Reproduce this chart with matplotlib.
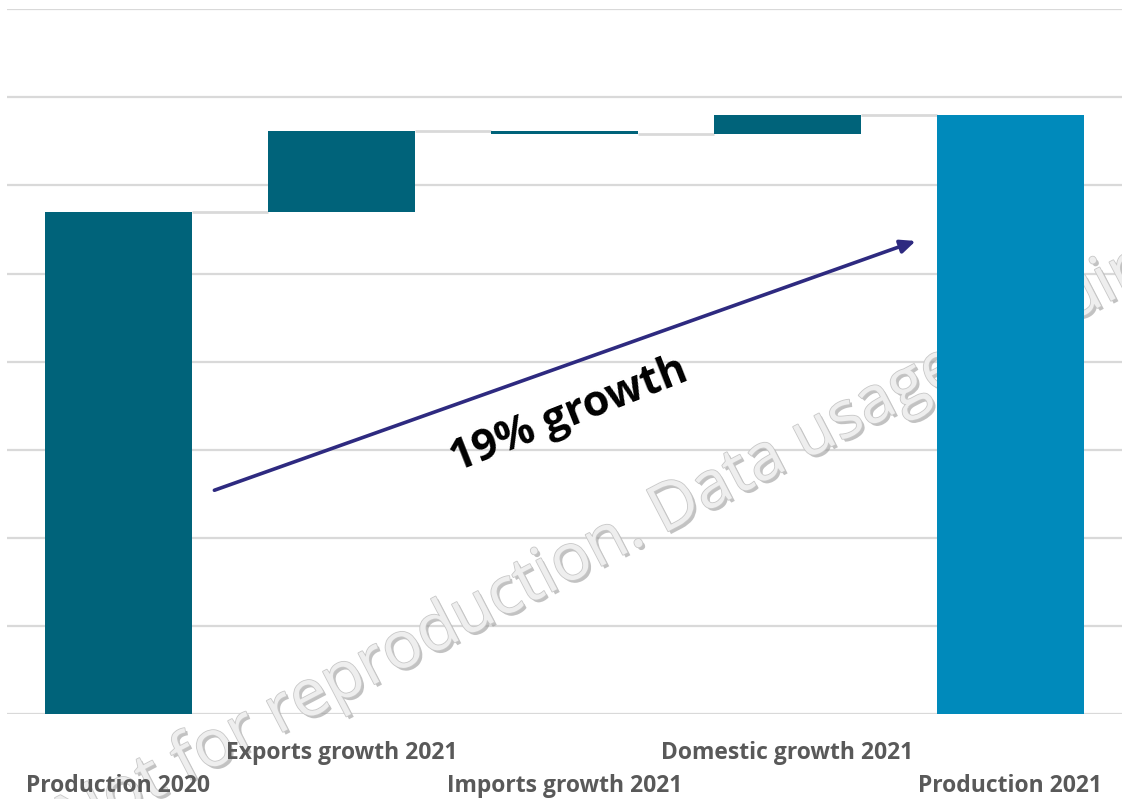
import matplotlib
matplotlib.use("Agg")
import matplotlib.pyplot as plt
import matplotlib.patheffects as pe
from matplotlib.font_manager import FontProperties
import numpy as np

categories = ["Production 2020", "Exports growth 2021", "Imports growth 2021",
              "Domestic growth 2021", "Production 2021"]
start_value = 5.70
changes = [0.92, -0.03, 0.21]
label_rows = [1, 0, 1, 0, 1]  # 0 = upper row, 1 = lower row

dark = "#00637A"
light = "#008ABB"
grid_c = "#D9D9D9"

# waterfall geometry from the data
levels = [start_value]
for c in changes:
    levels.append(levels[-1] + c)
end_value = levels[-1]
bottoms = [0] + [min(levels[i], levels[i + 1]) for i in range(len(changes))] + [0]
heights = [start_value] + [abs(c) for c in changes] + [end_value]
colors = [dark] * 4 + [light]
carry = [start_value] + levels[1:]

fig = plt.figure(figsize=(11.22, 7.99), dpi=100)
ax = fig.add_axes([7 / 1122, 85 / 799, 1 - 7 / 1122, (714 - 9.3) / 799])
x = np.arange(len(categories))
width = 0.663
ax.bar(x, heights, bottom=bottoms, width=width, color=colors, zorder=3)

for i in range(len(categories) - 1):
    ax.plot([x[i] + width / 2, x[i + 1] - width / 2], [carry[i], carry[i]],
            color=grid_c, lw=2, zorder=2, solid_capstyle="butt")

ax.set_xlim(-0.5, 4.5)
ax.set_ylim(0, 8)
ax.set_yticks(np.arange(0, 9, 1))
ax.yaxis.grid(True, color=grid_c, lw=1.6, zorder=0)
ax.set_axisbelow(True)
ax.tick_params(left=False, bottom=False, labelleft=False, labelbottom=False)
for s in ax.spines.values():
    s.set_visible(False)

trans = ax.get_xaxis_transform()
row_y = [-0.056, -0.102]
for i, cat in enumerate(categories):
    ax.text(x[i], row_y[label_rows[i]], cat, transform=trans, ha="center", va="center",
            fontsize=16.5, fontweight="bold", family="Open Sans", color="#595959",
            zorder=5, clip_on=False)

# watermark (behind the bars), anchored so that "Data" starts near (663, 532) px
wm_text = "Not for reproduction. Data usage requires"
wm_size = 47
wm_rot = 27.5
fp = FontProperties(family="Open Sans", size=wm_size)
renderer = fig.canvas.get_renderer()
w_pre, _, _ = renderer.get_text_width_height_descent("Not for reproduction. D", fp, ismath=False)
w_d, _, _ = renderer.get_text_width_height_descent("D", fp, ismath=False)
w_off = w_pre - w_d
ang = np.deg2rad(wm_rot)
d_px = (663.0, 799.0 - 534.0)
start_px = (d_px[0] - w_off * np.cos(ang), d_px[1] - w_off * np.sin(ang))
wm = ax.text(start_px[0] / 1122, start_px[1] / 799, wm_text,
             transform=fig.transFigure, rotation=wm_rot, rotation_mode="anchor",
             ha="left", va="baseline", fontproperties=fp,
             color="#EEEEEE", zorder=2.5, clip_on=False)
wm.set_path_effects([pe.SimplePatchShadow(offset=(2, -2), shadow_rgbFace="#9A9A9A", alpha=0.6),
                     pe.withStroke(linewidth=1.2, foreground="#C8C8C8")])

# growth arrow
ax.annotate("", xy=(3.575, 5.37), xytext=(0.43, 2.54),
            arrowprops=dict(arrowstyle="-|>,head_length=0.9,head_width=0.4",
                            color="#2E2A80", lw=2.6, shrinkA=0, shrinkB=0), zorder=6)
ax.text(2.02, 3.39, "19% growth", rotation=21.5, rotation_mode="anchor", ha="center",
        va="center", fontsize=31, fontweight="bold", family="Open Sans", color="black",
        zorder=6)

fig.savefig("out.png", dpi=100)
